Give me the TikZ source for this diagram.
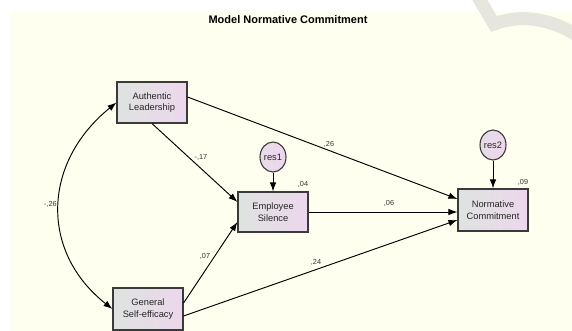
\documentclass[tikz,border=0pt]{standalone}
\usepackage{fontspec}
\setmainfont{Liberation Sans}
\usetikzlibrary{arrows.meta,shapes.geometric}
\definecolor{bgyellow}{HTML}{FEFFEF}
\definecolor{boxleft}{HTML}{DEE3E0}
\definecolor{boxright}{HTML}{EDD7ED}
\definecolor{boxline}{HTML}{3A3A3A}
\definecolor{wmark}{HTML}{E6E6DE}
\tikzset{
  var/.style={draw=boxline, line width=1.1pt, left color=boxleft, right color=boxright,
    minimum width=70pt, minimum height=41pt, inner sep=1pt, align=center,
    font=\fontsize{9.3}{11.5}\selectfont, text=black!85},
  resid/.style={ellipse, draw=boxline, line width=1.1pt, left color=boxleft!40!boxright, right color=boxright,
    minimum width=26pt, minimum height=30pt, inner sep=0pt, font=\fontsize{9.3}{11}\selectfont, text=black!85},
  path/.style={draw=black, line width=0.95pt, -{Latex[length=9pt,width=6.5pt]}},
  coef/.style={font=\fontsize{7.3}{8}\selectfont, text=black!80, inner sep=0pt}
}
\begin{document}
\begin{tikzpicture}[x=1pt,y=-1pt]
\useasboundingbox (0,0) rectangle (572,331);
\fill[white] (0,0) rectangle (572,331);
\fill[bgyellow] (10,11) rectangle (572,331);
% watermark fragment
\draw[wmark, line width=13pt, line cap=butt] (478,-3) -- (494,24) .. controls (520,14) and (550,18) .. (578,36);
% title
\node[font=\bfseries\fontsize{11}{12}\selectfont] (title) at (288,20) {Model Normative Commitment};
% variables
\node[var] (AL) at (152,102.5) {Authentic\\Leadership};
\node[var, minimum height=40pt] (ES) at (273,212) {Employee\\Silence};
\node[var, minimum height=42pt] (NC) at (493,210) {Normative\\Commitment};
\node[var, minimum height=42pt] (GS) at (148,309) {General\\Self-efficacy};
\node[resid] (r1) at (273,157) {res1};
\node[resid] (r2) at (493,145) {res2};
% paths
\draw[path] (r1.south) -- (ES.north);
\draw[path] (r2.south) -- (NC.north);
\draw[path] (AL.south) -- ([yshift=10pt]ES.west);
\draw[path] ([yshift=5.5pt]AL.east) -- ([yshift=11pt]NC.west);
\draw[path] (ES.east) -- (ES.east -| NC.west);
\draw[path] ([yshift=6pt]GS.east) -- ([yshift=-10pt]ES.west);
\draw[path] ([yshift=-7pt]GS.east) -- ([yshift=-10pt]NC.west);
\draw[draw=black, line width=0.95pt, {Latex[length=9pt,width=6.5pt]}-{Latex[length=9pt,width=6.5pt]}]
  (AL.west) .. controls (42,163) and (40,252) .. (GS.west);
% coefficients
\node[coef, anchor=east] (c1) at (57,204) {-,26};
\node[coef] (c2) at (201,157) {-,17};
\node[coef] (c3) at (329,144) {,26};
\node[coef] (c4) at (389,203) {,06};
\node[coef] (c5) at (205,256) {,07};
\node[coef] (c6) at (316,262) {,24};
\node[coef] (c7) at (303,184) {,04};
\node[coef] (c8) at (523,182) {,09};
\end{tikzpicture}
\end{document}
